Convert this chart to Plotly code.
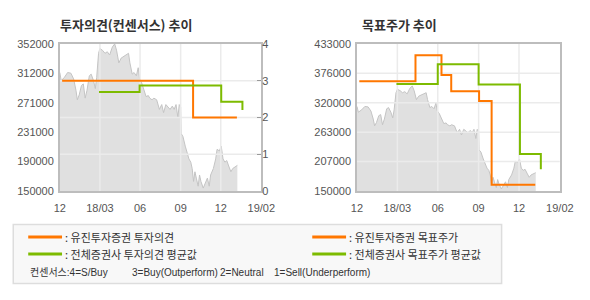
import plotly.graph_objects as go
import pandas as pd

# ---------------- data ----------------
START = "2017-12-01"
END = "2019-02-11"
TICK_DATES = ["2017-12-01", "2018-02-26", "2018-05-24", "2018-08-20", "2018-11-15", "2019-02-11"]
TICK_LABELS = ["12", "18/03", "06", "09", "12", "19/02"]

# share price (days after START, price)
PRICE_DAY = [0, 3, 10, 17, 24, 30, 35, 38, 42, 47, 51, 55, 59, 64, 68, 73, 77, 80, 84, 87,
             93, 98, 103, 108, 114, 119, 123, 128, 133, 138, 143, 149, 152, 157, 161, 166, 170,
             173, 177, 182, 187, 192, 195, 200, 204, 210, 216, 221, 225, 230, 235, 239, 244,
             248, 252, 256, 259, 262, 263, 267, 272, 277, 280, 284, 287, 290, 293, 296, 300,
             303, 306, 311, 315, 320, 324, 327, 333, 338, 341, 346, 350, 354, 358, 362, 367,
             371, 375, 379, 385]
PRICE = [312700, 301600, 306100, 312700, 311800, 303900, 288400, 275300, 281900, 295000,
         297000, 277500, 288400, 308200, 310500, 301600, 290700, 306100, 339100, 345700,
         343000, 339100, 341200, 336800, 347800, 352000, 343400, 325900, 332500, 334600,
         336800, 339100, 325900, 310500, 312700, 308200, 319300, 303900, 299500, 290700,
         279700, 281000, 277500, 275300, 277500, 275300, 262100, 268700, 257700, 268700,
         264300, 262100, 266600, 262100, 268700, 251100, 268700, 265000, 229100, 224800,
         211600, 200600, 194000, 189600, 180900, 163200, 176400, 167700, 156600, 172000,
         163200, 154000, 161100, 167700, 156600, 172000, 180900, 194000, 207200, 205000,
         211600, 194000, 189600, 191800, 183000, 176400, 180900, 183000, 185200]

OPINION_DAY = [5, 289, 384]
OPINION = [3, 2, 2]
CONS_OPINION_DAY = [85, 173, 350, 396]
CONS_OPINION = [2.69, 2.87, 2.43, 2.20]

TARGET_DAY = [5, 126, 182, 203, 263, 290, 384]
TARGET = [361000, 411000, 373000, 342000, 323000, 162000, 162000]
CONS_TARGET_DAY = [85, 174, 262, 351, 396]
CONS_TARGET = [356000, 394000, 355000, 221000, 192000]

LEFT_Y_TICKS = [150000, 190400, 230800, 271200, 311600, 352000]
LEFT_Y_LABELS = ["150000", "190000", "231000", "271000", "312000", "352000"]
OPINION_TICKS = [0, 1, 2, 3, 4]
TGT_Y_TICKS = [150000, 206600, 263200, 319800, 376400, 433000]
TGT_Y_LABELS = ["150000", "207000", "263000", "320000", "376000", "433000"]

TITLE_LEFT = "투자의견(컨센서스) 추이"
TITLE_RIGHT = "목표주가 추이"
LEG_LEFT = [": 유진투자증권 투자의견", ": 전체증권사 투자의견 평균값"]
LEG_RIGHT = [": 유진투자증권 목표주가", ": 전체증권사 목표주가 평균값"]
CONSENSUS = ["컨센서스:4=S/Buy", "3=Buy(Outperform)", "2=Neutral", "1=Sell(Underperform)"]

# ---------------- style ----------------
W, H = 590, 300
ORANGE = "#FF7700"
GREEN = "#7DBB00"
FILL = "#E0E0E0"
PLINE = "#C4C4C4"
GRID = "#EBEBEB"
BORDER = "#BDBDBD"
TXT = "#555555"
LATIN = "Liberation Sans, Arial, sans-serif"
CJK = "Noto Sans CJK KR, sans-serif"
MIXED = "Liberation Sans, Noto Sans CJK KR, sans-serif"

t0 = pd.Timestamp(START)


def to_dates(days):
    return [t0 + pd.Timedelta(days=d) for d in days]


def px(x):
    return x / W


def py(y):
    return 1 - y / H


price_x = to_dates(PRICE_DAY)
L_DOM = [px(55.7), px(264.3)]
R_DOM = [px(363.3), px(573.3)]
Y_DOM = [py(192.7), py(39.5)]

fig = go.Figure()


def grid_trace(xs_v, y_lo, y_hi, ys_h, xa, ya):
    gx, gy = [], []
    for d in xs_v:
        gx += [d, d, None]
        gy += [y_lo, y_hi, None]
    for v in ys_h:
        gx += [START, END, None]
        gy += [v, v, None]
    return go.Scatter(x=gx, y=gy, mode="lines", line=dict(color=GRID, width=1.5),
                      xaxis=xa, yaxis=ya, hoverinfo="skip", showlegend=False)


# ---- left chart ----
fig.add_trace(go.Scatter(x=price_x, y=PRICE, mode="lines", fill="tozeroy",
                         fillcolor=FILL, line=dict(color=PLINE, width=1),
                         xaxis="x", yaxis="y", showlegend=False))
fig.add_trace(grid_trace(TICK_DATES[1:-1], OPINION_TICKS[0], OPINION_TICKS[-1],
                         OPINION_TICKS[1:-1], "x", "y2"))
fig.add_trace(go.Scatter(x=to_dates(OPINION_DAY), y=OPINION, mode="lines",
                         line=dict(color=ORANGE, width=2, shape="hv"),
                         xaxis="x", yaxis="y2", showlegend=False))
fig.add_trace(go.Scatter(x=to_dates(CONS_OPINION_DAY), y=CONS_OPINION, mode="lines",
                         line=dict(color=GREEN, width=2, shape="hv"),
                         xaxis="x", yaxis="y2", showlegend=False))

# ---- right chart ----
fig.add_trace(go.Scatter(x=price_x, y=PRICE, mode="lines", fill="tozeroy",
                         fillcolor=FILL, line=dict(color=PLINE, width=1),
                         xaxis="x2", yaxis="y3", showlegend=False))
fig.add_trace(grid_trace(TICK_DATES[1:-1], TGT_Y_TICKS[0], TGT_Y_TICKS[-1],
                         TGT_Y_TICKS[1:-1], "x2", "y3"))
fig.add_trace(go.Scatter(x=to_dates(TARGET_DAY), y=TARGET, mode="lines",
                         line=dict(color=ORANGE, width=2, shape="hv"),
                         xaxis="x2", yaxis="y3", showlegend=False))
fig.add_trace(go.Scatter(x=to_dates(CONS_TARGET_DAY), y=CONS_TARGET, mode="lines",
                         line=dict(color=GREEN, width=2, shape="hv"),
                         xaxis="x2", yaxis="y3", showlegend=False))

xcommon = dict(type="date", range=[START, END], tickvals=TICK_DATES, ticktext=TICK_LABELS,
               showgrid=False, zeroline=False, showline=True, mirror=True,
               linecolor=BORDER, linewidth=1.5, ticks="", ticklabelstandoff=6,
               tickfont=dict(family=LATIN, size=11, color=TXT))
fig.update_layout(
    width=W, height=H, autosize=False,
    margin=dict(l=0, r=0, t=0, b=0, pad=0),
    paper_bgcolor="white", plot_bgcolor="white",
    showlegend=False,
    xaxis=dict(domain=L_DOM, anchor="y", **xcommon),
    xaxis2=dict(domain=R_DOM, anchor="y3", **xcommon),
    yaxis=dict(domain=Y_DOM, anchor="x", range=[LEFT_Y_TICKS[0], LEFT_Y_TICKS[-1]],
               tickvals=LEFT_Y_TICKS, ticktext=LEFT_Y_LABELS, showgrid=False,
               zeroline=False, showline=True, mirror=True, linecolor=BORDER,
               linewidth=1.5, ticks="", ticklabelstandoff=2,
               tickfont=dict(family=LATIN, size=11, color=TXT)),
    yaxis2=dict(overlaying="y", side="right", anchor="x",
                range=[OPINION_TICKS[0], OPINION_TICKS[-1]], tickvals=OPINION_TICKS,
                showgrid=False, zeroline=False, showline=False,
                ticks="inside", ticklen=4, tickcolor="#999999",
                tickfont=dict(family=LATIN, size=11, color=TXT)),
    yaxis3=dict(domain=Y_DOM, anchor="x2", range=[TGT_Y_TICKS[0], TGT_Y_TICKS[-1]],
                tickvals=TGT_Y_TICKS, ticktext=TGT_Y_LABELS, showgrid=False,
                zeroline=False, showline=True, mirror=True, linecolor=BORDER,
                linewidth=1.5, ticks="", ticklabelstandoff=2,
                tickfont=dict(family=LATIN, size=11, color=TXT)),
)

# titles
for text, x in [(TITLE_LEFT, 54), (TITLE_RIGHT, 366)]:
    fig.add_annotation(text="<b>" + text + "</b>", x=px(x), y=py(19), xref="paper",
                       yref="paper", xanchor="left", yanchor="middle", showarrow=False,
                       font=dict(family=CJK, size=13, color="#333333"))

# legend box
fig.add_shape(type="rect", xref="paper", yref="paper", x0=px(7.5), x1=px(513),
              y0=py(289), y1=py(227.5), fillcolor="#F8F8F8",
              line=dict(color="#DDDDDD", width=1.5), layer="below")
rows = [240.7, 258.3]
for i, (color, lt, rt) in enumerate(zip([ORANGE, GREEN], LEG_LEFT, LEG_RIGHT)):
    for (lx0, lx1, tx, text) in [(23, 58, 59, lt), (317, 352, 353, rt)]:
        fig.add_shape(type="line", xref="paper", yref="paper", x0=px(lx0), x1=px(lx1),
                      y0=py(rows[i]), y1=py(rows[i]), line=dict(color=color, width=3))
        fig.add_annotation(text=text, x=px(tx), y=py(rows[i]), xref="paper", yref="paper",
                           xanchor="left", yanchor="middle", showarrow=False,
                           font=dict(family=CJK, size=11, color="#333333"))
for text, x in zip(CONSENSUS, [23, 128, 219, 275]):
    fig.add_annotation(text=text, x=px(x), y=py(277.5), xref="paper", yref="paper",
                       xanchor="left", yanchor="middle", showarrow=False,
                       font=dict(family=MIXED, size=10, color="#333333"))

fig.write_html("out.html")
